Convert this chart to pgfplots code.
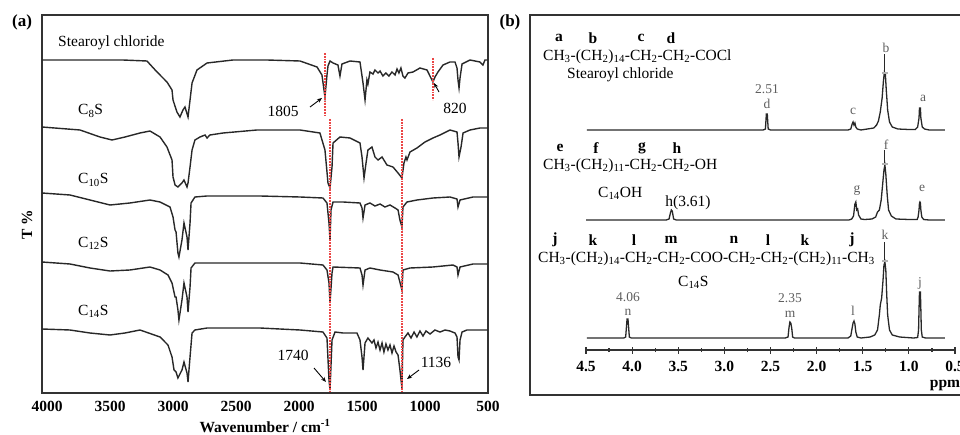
\documentclass[border=0pt]{standalone}
\usepackage{fontspec}
\setmainfont{Liberation Serif}
\usepackage{pgfplots}
\pgfplotsset{compat=1.18}
\usetikzlibrary{arrows.meta}

\definecolor{spec}{RGB}{40,40,40}
\definecolor{dotred}{RGB}{235,70,70}
\definecolor{pk}{RGB}{95,95,95}

\tikzset{
  redline/.style={draw=dotred, densely dotted, line width=1.8pt},
  arr/.style={-{Stealth[length=5pt,width=4pt]}, line width=0.9pt, black},
  pklab/.style={text=pk, font=\fontsize{13.5}{15}\selectfont, inner sep=0pt},
  hlab/.style={font=\fontsize{15.5}{18}\selectfont\bfseries, inner sep=0pt},
}

\begin{document}
\fontsize{15.5}{18}\selectfont
\begin{tikzpicture}[x=1pt,y=1pt]
\useasboundingbox (0,0) rectangle (960,434);
\clip (0,0) rectangle (960,434);

% ---------------- (a) FTIR ----------------
\begin{axis}[
    at={(42pt,41pt)}, anchor=south west, scale only axis,
    width=446pt, height=378pt,
    xmin=500, xmax=4040, ymin=0, ymax=378,
    x dir=reverse,
    xtick={500,1000,1500,2000,2500,3000,3500,4000},
    ytick=\empty,
    major tick length=0pt,
    axis line style={line width=1.6pt, black!80},
    xticklabel style={font=\bfseries, yshift=-3pt},
    /pgf/number format/1000 sep={},
    /pgf/number format/assume math mode=true,
    xlabel={\bfseries Wavenumber / cm\textsuperscript{-1}},
    xlabel style={at={(axis description cs:0.5,0)}, anchor=center, yshift=-33pt},
]
% Stearoyl chloride
\addplot[spec, line width=1.4pt] coordinates {
(4040,333)(3700,333)(3400,333)(3207,332)(3127,321)(3048,311)(3008,303)(3000,293)
(2969,281)(2945,276)(2921,283)(2905,286)(2881,276)(2865,293)(2849,310)(2810,323)
(2730,330)(2524,333)(2254,333)(1992,332)(1857,326)(1818,318)(1794,296)(1778,318)
(1770,327)(1754,332)(1730,330)(1691,328)(1675,317)(1659,329)(1595,332)(1516,331)
(1492,310)(1476,293)(1461,313)(1453,309)(1437,321)(1413,319)(1397,323)(1373,320)
(1357,322)(1334,317)(1310,320)(1286,317)(1262,321)(1238,318)(1222,324)(1207,320)
(1191,325)(1175,317)(1159,315)(1135,320)(1095,321)(1040,325)(984,323)(953,315)
(937,311)(921,316)(897,321)(857,328)(802,331)(762,331)(746,325)(738,313)(730,305)
(722,315)(706,329)(643,333)(564,331)(540,328)(524,333)(500,333)
};
% C8S
\addplot[spec, line width=1.4pt] coordinates {
(4040,266)(3738,263)(3580,256)(3484,253)(3381,256)(3262,260)(3183,262)(3103,256)
(3048,246)(3008,233)(3000,216)(2984,208)(2961,206)(2929,210)(2913,213)(2889,206)
(2881,210)(2865,226)(2849,243)(2826,253)(2786,256)(2746,258)(2730,255)(2707,258)
(2603,260)(2334,263)(1992,263)(1834,260)(1794,243)(1770,210)(1754,205)(1738,226)
(1730,250)(1675,256)(1595,255)(1516,250)(1500,236)(1484,215)(1468,230)(1453,243)
(1421,246)(1397,236)(1373,233)(1341,236)(1302,228)(1254,226)(1214,220)(1183,215)
(1167,230)(1151,236)(1143,233)(1119,241)(1064,245)(1000,251)(937,255)(881,258)
(802,263)(746,261)(738,250)(730,236)(714,246)(698,260)(643,263)(564,265)(500,265)
};
% C10S
\addplot[spec, line width=1.4pt] coordinates {
(4040,200)(3818,198)(3659,193)(3500,188)(3342,190)(3183,193)(3103,191)(3024,186)
(3000,176)(2984,163)(2976,161)(2961,140)(2953,136)(2929,153)(2913,170)(2889,156)
(2881,143)(2865,170)(2857,190)(2826,196)(2730,197)(2310,197)(1992,196)(1810,195)
(1778,190)(1762,170)(1754,153)(1746,183)(1730,191)(1651,191)(1516,190)(1500,185)
(1492,175)(1476,188)(1437,190)(1397,187)(1357,189)(1318,186)(1278,188)(1238,185)
(1214,183)(1199,173)(1183,166)(1175,186)(1143,191)(1064,193)(937,195)(802,196)
(746,194)(738,186)(722,193)(619,196)(500,196)
};
% C12S
\addplot[spec, line width=1.4pt] coordinates {
(4040,131)(3818,129)(3659,125)(3500,122)(3342,123)(3183,126)(3103,123)(3040,118)
(3008,110)(2984,96)(2976,96)(2961,83)(2953,73)(2929,93)(2913,110)(2889,96)
(2881,81)(2865,106)(2857,125)(2826,130)(2310,130)(1992,130)(1810,128)(1778,123)
(1762,110)(1754,90)(1738,120)(1730,126)(1516,125)(1500,118)(1492,108)(1476,123)
(1437,125)(1357,123)(1254,121)(1214,118)(1183,103)(1175,123)(1119,125)(937,126)
(778,128)(746,126)(738,118)(722,126)(619,129)(500,129)
};
% C14S
\addplot[spec, line width=1.4pt] coordinates {
(4040,64)(3818,63)(3659,60)(3500,58)(3381,60)(3262,63)(3103,56)(3040,48)
(3008,36)(2992,23)(2976,21)(2961,15)(2929,23)(2913,31)(2889,20)(2881,11)
(2865,36)(2849,60)(2826,63)(2730,65)(2310,65)(1992,63)(1810,61)(1778,55)
(1762,13)(1754,3)(1738,53)(1714,61)(1651,60)(1540,60)(1516,53)(1500,36)
(1492,23)(1476,50)(1453,55)(1421,50)(1405,53)(1389,45)(1373,51)(1357,43)
(1341,50)(1326,41)(1310,49)(1294,43)(1278,48)(1262,40)(1246,47)(1230,41)
(1214,38)(1199,23)(1183,5)(1175,53)(1159,56)(1135,60)(1111,55)(1087,61)
(1064,56)(1040,62)(1016,57)(992,62)(960,59)(921,63)(881,61)(841,63)
(802,62)(762,60)(746,56)(738,36)(730,33)(722,53)(706,61)(667,63)(500,63)
};
\draw[redline] (1794,340) -- (1794,276);
\draw[redline] (937,335) -- (937,293);
\draw[redline] (1754,274) -- (1754,0);
\draw[redline] (1183,274) -- (1183,0);
\end{axis}

\node[font=\fontsize{17}{20}\selectfont\bfseries] at (22,412) {(a)};
\node[rotate=90, font=\bfseries] at (27,209) {T \%};
\node[anchor=west, inner sep=0pt] at (58,391) {Stearoyl chloride};
\node[anchor=west, inner sep=0pt] at (78,323) {C\textsubscript{8}S};
\node[anchor=west, inner sep=0pt] at (78,254) {C\textsubscript{10}S};
\node[anchor=west, inner sep=0pt] at (78,191) {C\textsubscript{12}S};
\node[anchor=west, inner sep=0pt] at (78,123) {C\textsubscript{14}S};
\node[inner sep=0pt] at (283,323) {1805};
\node[inner sep=0pt] at (455,326) {820};
\node[inner sep=0pt] at (293,79) {1740};
\node[inner sep=0pt] at (436,72) {1136};
\draw[arr] (310,327) -- (322,336);
\draw[arr] (439,342) -- (434,351);
\draw[arr] (314,66) -- (326,52);
\draw[arr] (419,64) -- (407,55);

% ---------------- (b) 1H NMR ----------------
\draw[line width=1.6pt, black!80] (530,39) rectangle (975,419);
\node[font=\fontsize{17}{20}\selectfont\bfseries] at (510,412) {(b)};

\begin{axis}[
    at={(586pt,84pt)}, anchor=south west, scale only axis,
    width=369pt, height=320pt,
    xmin=0.5, xmax=4.5, ymin=0, ymax=320,
    x dir=reverse,
    axis x line=bottom, axis y line=none,
    axis line style={-, line width=1.2pt, black!80},
    xtick={0.5,1.0,1.5,2.0,2.5,3.0,3.5,4.0,4.5},
    minor x tick num=1,
    tick align=center,
    major tick length=7pt, minor tick length=4pt,
    tick style={line width=1.2pt, black!80},
    xticklabel style={font=\bfseries, yshift=-2pt,
      /pgf/number format/.cd, fixed, fixed zerofill, precision=1, assume math mode=true},
    clip=false,
]
% stearoyl chloride
\addplot[spec, line width=1.3pt] coordinates {
(4.49,220)(2.58,220)(2.555,221)(2.545,236)(2.535,236)(2.525,221)(2.50,220)
(1.66,220)(1.63,221)(1.615,226)(1.605,228)(1.595,225)(1.585,227)(1.575,223)(1.56,221)(1.52,220)
(1.45,221)(1.38,222)(1.35,225)(1.33,229)(1.31,238)(1.29,252)(1.275,270)(1.265,278)(1.255,276)
(1.245,260)(1.23,240)(1.21,228)(1.18,223)(1.12,221)(1.0,220.5)(0.93,220.5)(0.905,223)
(0.89,232)(0.885,242)(0.875,242)(0.87,232)(0.855,223)(0.83,221)(0.78,220)(0.61,220)
};
% C14OH
\addplot[spec, line width=1.3pt] coordinates {
(4.5,130)(3.63,130)(3.60,131)(3.585,137)(3.575,140)(3.565,139)(3.55,131)(3.52,130)
(1.65,130)(1.62,131)(1.6,134)(1.585,146)(1.575,148)(1.565,140)(1.555,141)(1.545,135)(1.52,131)
(1.48,130.5)(1.4,131)(1.36,133)(1.34,138)(1.32,140)(1.30,150)(1.285,165)(1.27,180)(1.26,185)
(1.25,176)(1.235,155)(1.22,140)(1.19,134)(1.14,131)(1.0,130.5)(0.91,130.5)(0.9,133)
(0.89,140)(0.885,147)(0.88,148)(0.875,147)(0.87,140)(0.86,133)(0.84,130.5)(0.78,130)(0.61,130)
};
% C14S
\addplot[spec, line width=1.3pt] coordinates {
(4.49,12)(4.09,12)(4.07,13)(4.06,25)(4.055,31)(4.045,31)(4.04,25)(4.03,13)(4.01,12)
(2.34,12)(2.31,13)(2.30,22)(2.29,28)(2.28,27)(2.27,22)(2.26,13)(2.24,12)
(1.66,12)(1.63,14)(1.615,22)(1.605,27)(1.595,29)(1.585,26)(1.575,18)(1.56,13)(1.52,12)
(1.42,13)(1.37,15)(1.34,20)(1.32,35)(1.31,45)(1.295,52)(1.28,70)(1.27,85)(1.26,88)
(1.25,80)(1.24,55)(1.23,35)(1.21,20)(1.18,15)(1.1,13)(0.95,12)(0.905,12.5)(0.895,20)
(0.89,40)(0.885,58)(0.875,58)(0.87,40)(0.865,20)(0.855,13)(0.82,12)(0.61,12)
};
% stems above the truncated CH2 peaks
\draw[spec, line width=1pt] (1.26,278) -- (1.26,296);
\draw[spec, line width=1pt] (1.26,185) -- (1.26,200);
\draw[spec, line width=1pt] (1.26,88) -- (1.26,108);
\draw[gray!60, line width=1.5pt] (1.29,277) -- (1.23,277);
\draw[gray!60, line width=1.5pt] (1.29,186) -- (1.23,186);
\draw[gray!60, line width=1.5pt] (1.29,89) -- (1.23,89);
\end{axis}

\node[font=\bfseries] at (945,49) {ppm};

% row 1
\node[hlab] at (559,396) {a};
\node[hlab] at (593,396) {b};
\node[hlab] at (641,396) {c};
\node[hlab] at (671,396) {d};
\node[anchor=west, inner sep=0pt] at (543,377)
  {CH\textsubscript{3}-(CH\textsubscript{2})\textsubscript{14}-CH\textsubscript{2}-CH\textsubscript{2}-COCl};
\node[anchor=west, inner sep=0pt] at (567,359) {Stearoyl chloride};
\node[pklab] at (767,345) {2.51};
\node[pklab] at (767,330) {d};
\node[pklab] at (853,323) {c};
\node[pklab] at (886,386) {b};
\node[pklab] at (923,336) {a};

% row 2
\node[hlab] at (560,286) {e};
\node[hlab] at (596,286) {f};
\node[hlab] at (642,286) {g};
\node[hlab] at (677,286) {h};
\node[anchor=west, inner sep=0pt] at (543,268)
  {CH\textsubscript{3}-(CH\textsubscript{2})\textsubscript{11}-CH\textsubscript{2}-CH\textsubscript{2}-OH};
\node[anchor=west, inner sep=0pt] at (598,241) {C\textsubscript{14}OH};
\node[inner sep=0pt] at (688,231) {h(3.61)};
\node[pklab] at (857,244) {g};
\node[pklab] at (886,289) {f};
\node[pklab] at (922,246) {e};

% row 3
\node[hlab] at (555,194) {j};
\node[hlab] at (593,194) {k};
\node[hlab] at (634,194) {l};
\node[hlab] at (671,194) {m};
\node[hlab] at (734,194) {n};
\node[hlab] at (768,194) {l};
\node[hlab] at (805,194) {k};
\node[hlab] at (852,194) {j};
\node[anchor=west, inner sep=0pt] at (538,175)
  {CH\textsubscript{3}-(CH\textsubscript{2})\textsubscript{14}-CH\textsubscript{2}-CH\textsubscript{2}-COO-CH\textsubscript{2}-CH\textsubscript{2}-(CH\textsubscript{2})\textsubscript{11}-CH\textsubscript{3}};
\node[anchor=west, inner sep=0pt] at (678,152) {C\textsubscript{14}S};
\node[pklab] at (628,137) {4.06};
\node[pklab] at (628,122) {n};
\node[pklab] at (790,136) {2.35};
\node[pklab] at (790,120) {m};
\node[pklab] at (853,123) {l};
\node[pklab] at (885,199) {k};
\node[pklab] at (920,151) {j};
\end{tikzpicture}
\end{document}
